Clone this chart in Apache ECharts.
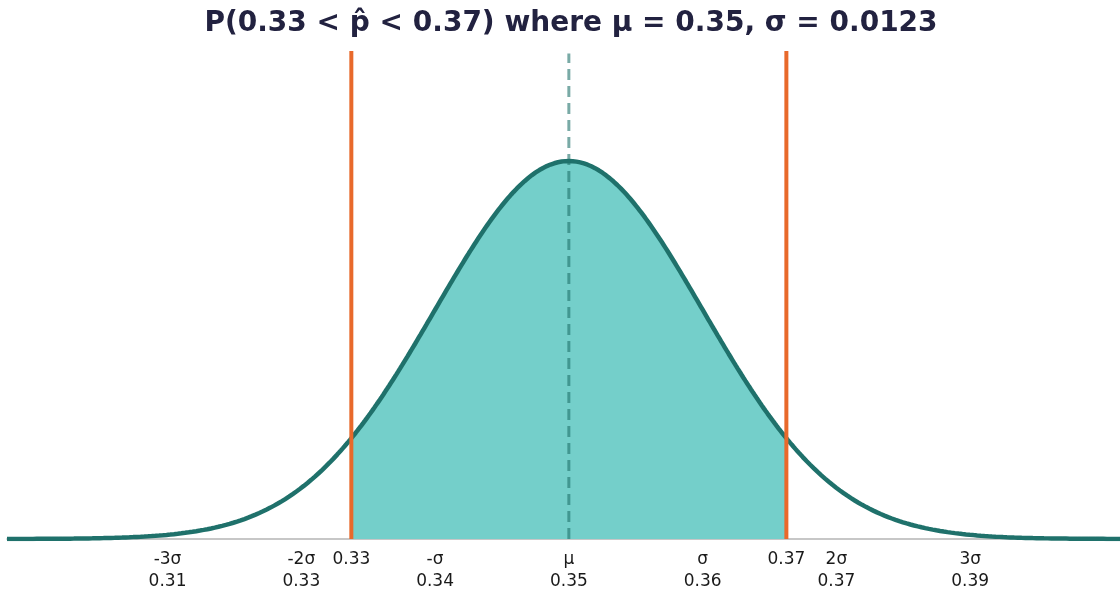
<!DOCTYPE html>
<html><head><meta charset="utf-8">
<script src="https://cdn.jsdelivr.net/npm/echarts@6/dist/echarts.min.js"></script>
<style>html,body{margin:0;padding:0;background:#fff}#c{width:1120px;height:596px}</style>
</head><body><div id="c"></div>
<script>
const mu = 0.35;
const sigma = 0.0123;
const bounds = [0.33, 0.37];
const sigmaSteps = [-3, -2, -1, 0, 1, 2, 3];
const sigmaNames = ['-3σ', '-2σ', '-σ', 'μ', 'σ', '2σ', '3σ'];
const sigmaValueLabels = ['0.31', '0.33', '0.34', '0.35', '0.36', '0.37', '0.39'];
const boundLabels = ['0.33', '0.37'];
const spanLeft = 4.2;   // plotted range in sigmas left of mu
const spanRight = 4.12; // visible range in sigmas right of mu (figure cropped)

function pdf(x) { return Math.exp(-0.5 * Math.pow((x - mu) / sigma, 2)) / (sigma * Math.sqrt(2 * Math.PI)); }
const xmin = mu - spanLeft * sigma, xmax = mu + spanRight * sigma;
const N = 600;
const curve = [];
for (let i = 0; i <= N; i++) { const x = xmin + (xmax - xmin) * i / N; curve.push([x, pdf(x)]); }
const shade = [];
for (let i = 0; i <= N; i++) { const x = bounds[0] + (bounds[1] - bounds[0]) * i / N; shade.push([x, pdf(x)]); }
const peak = pdf(mu);
const ymax = peak * 488 / 378;

const tickVals = sigmaSteps.map(k => mu + k * sigma);
const chart = echarts.init(document.getElementById('c'));
const labelStyle = { color: '#1a1a1a', fontSize: 17, fontFamily: 'DejaVu Sans', lineHeight: 22, margin: 10 };
chart.setOption({
  animation: false,
  title: { text: 'P(0.33 < p̂ < 0.37) where μ = 0.35, σ = 0.0123', left: 566, textAlign: 'center', top: 5,
    textStyle: { fontFamily: 'DejaVu Sans', fontWeight: 'bold', fontSize: 28, color: '#222240' } },
  grid: { left: 7, right: 0, top: 51, bottom: 57 },
  xAxis: [{
    type: 'value', min: xmin, max: xmax,
    axisLine: { show: true, lineStyle: { color: '#b5b5b5', width: 1.5 } },
    axisTick: { show: false }, splitLine: { show: false },
    axisLabel: Object.assign({}, labelStyle, {
      customValues: tickVals,
      formatter: v => { let i = tickVals.findIndex(t => Math.abs(t - v) < 1e-9); return i < 0 ? '' : sigmaNames[i] + '\n' + sigmaValueLabels[i]; }
    })
  }, {
    type: 'value', min: xmin, max: xmax, position: 'bottom',
    axisLine: { show: false }, axisTick: { show: false }, splitLine: { show: false },
    axisLabel: Object.assign({}, labelStyle, {
      customValues: bounds,
      formatter: v => { let i = bounds.findIndex(t => Math.abs(t - v) < 1e-9); return i < 0 ? '' : boundLabels[i]; }
    })
  }],
  yAxis: { type: 'value', min: 0, max: ymax, show: false },
  series: [
    { type: 'line', data: shade, showSymbol: false, lineStyle: { width: 0 }, areaStyle: { color: '#74cfca', opacity: 1 }, z: 1 },
    { type: 'line', data: curve, showSymbol: false, lineStyle: { color: '#1f716b', width: 4.5 }, z: 3 },
    { type: 'line', data: [[mu, 0], [mu, ymax * 0.995]], showSymbol: false, lineStyle: { color: 'rgba(31,113,107,0.6)', width: 3, type: [11, 6] }, z: 5 },
    { type: 'line', data: [[bounds[0], 0], [bounds[0], ymax]], showSymbol: false, lineStyle: { color: '#e8692b', width: 4 }, z: 4 },
    { type: 'line', data: [[bounds[1], 0], [bounds[1], ymax]], showSymbol: false, lineStyle: { color: '#e8692b', width: 4 }, z: 4 }
  ]
});
</script></body></html>
